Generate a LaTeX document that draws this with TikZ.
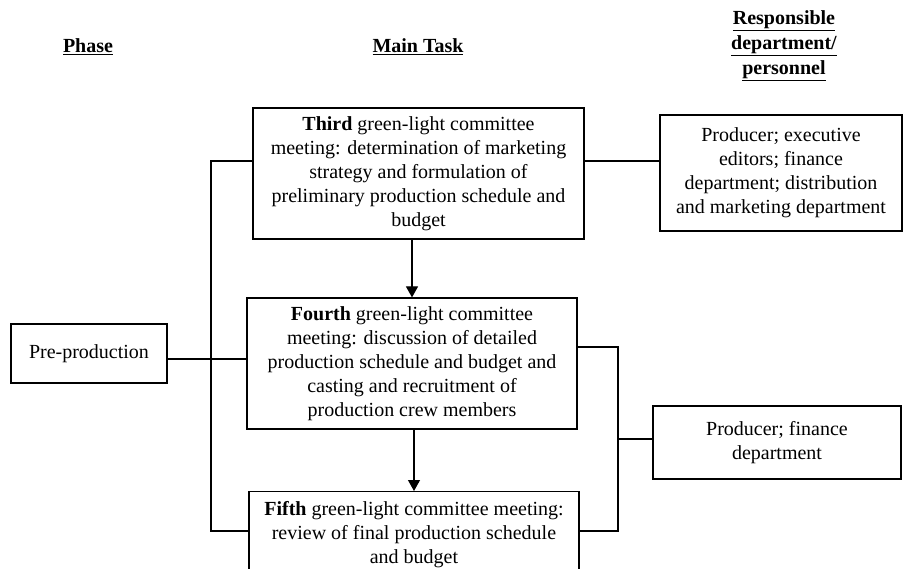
\documentclass[tikz,border=0pt]{standalone}
\usepackage{fontspec}
\setmainfont{Liberation Serif}
\usetikzlibrary{arrows.meta}

\tikzset{
  txt/.style={font=\fontsize{20}{24}\selectfont, align=center},
  headtext/.style={font=\fontsize{20}{25}\selectfont\bfseries, align=center},
  taskbox/.style={txt, draw, line width=1.2pt, inner sep=0pt},
  sidebox/.style={txt, draw, line width=1.2pt, inner sep=0pt},
  link/.style={line width=1.2pt},
  flow/.style={line width=1.2pt, -{Triangle[length=11pt,width=12pt]}}
}

\begin{document}
\begin{tikzpicture}[x=1pt,y=-1pt]
\fill[white] (0,0) rectangle (903,569);
\useasboundingbox (0,0) rectangle (903,569);

\node[headtext] (phasehd) at (88,47) {\underline{Phase}};
\node[headtext] (taskhd) at (418,47) {\underline{Main Task}};
\node[headtext] (resphd) at (784,46) {\underline{Responsible}\\\underline{department/}\\\underline{personnel}};

\node[taskbox, minimum width=331pt, minimum height=131pt] (third) at (418.5,173.5) {\textbf{Third} green-light committee\\meeting: determination of marketing\\strategy and formulation of\\preliminary production schedule and\\budget};
\node[taskbox, minimum width=330pt, minimum height=131pt] (fourth) at (412,363.5) {\textbf{Fourth} green-light committee\\meeting: discussion of detailed\\production schedule and budget and\\casting and recruitment of\\production crew members};
\node[taskbox, minimum width=330pt, minimum height=95pt, anchor=north] (fifth) at (414,491) {};
\node[txt] (fifthtxt) at (414,534.5) {\textbf{Fifth} green-light committee meeting:\\review of final production schedule\\and budget};

\node[sidebox, minimum width=156pt, minimum height=59pt] (preprod) at (89,353.5) {Pre-production};
\node[sidebox, minimum width=242pt, minimum height=116pt] (resp1) at (781,173) {Producer; executive\\editors; finance\\department; distribution\\and marketing department};
\node[sidebox, minimum width=248pt, minimum height=73pt] (resp2) at (777,442.5) {Producer; finance\\department};

\coordinate (ltop) at (211,161);
\coordinate (lmid) at (211,359);
\coordinate (lbot) at (211,531);
\coordinate (rline) at (620,161);
\coordinate (rtop) at (618,347);
\coordinate (rmid) at (618,439);
\coordinate (rbot) at (618,531);

\draw[link] (third.west |- ltop) -- (ltop) -- (lbot) -- (fifth.west |- lbot);
\draw[link] (preprod.east |- lmid) -- (fourth.west |- lmid);
\draw[link] (third.east |- rline) -- (resp1.west |- rline);
\draw[link] (fourth.east |- rtop) -- (rtop) -- (rbot) -- (fifth.east |- rbot);
\draw[link] (rmid) -- (resp2.west |- rmid);

\draw[flow] (fourth.north |- third.south) -- (fourth.north);
\draw[flow] (fifth.north |- fourth.south) -- (fifth.north);
\end{tikzpicture}
\end{document}
